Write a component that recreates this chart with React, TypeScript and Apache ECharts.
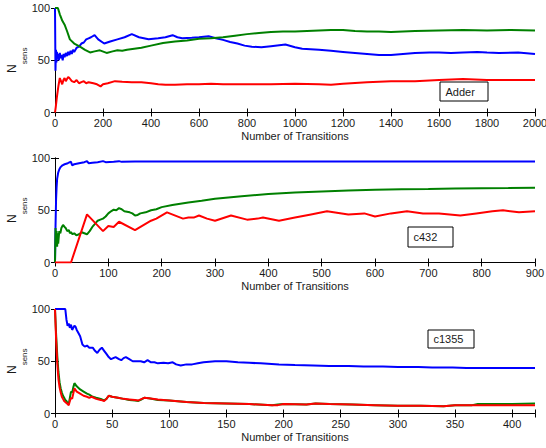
import React, { useEffect, useRef } from "react";
import * as echarts from "echarts";

// ---------- data ----------
const panelNames = ["Adder", "c432", "c1355"];
const xMax = [2000, 900, 420];
const xInterval = [200, 100, 50];
const yTicks = [0, 50, 100];

const adderBlue = [[0,100],[2,40],[4,60],[6,48],[8,58],[10,52],[13,56],[16,50],[20,57],[24,52],[28,55],[32,50],[36,56],[40,53],[45,57],[50,54],[55,58],[60,55],[65,59],[70,56],[75,60],[80,58],[90,62],[100,63],[110,66],[120,67],[130,70],[140,71],[150,72],[165,74],[180,70],[205,66],[230,68],[260,70],[290,72],[320,75],[350,72],[390,70],[430,71],[460,72],[490,74],[510,72],[530,71],[570,71.5],[600,72],[640,73],[670,71],[700,69.5],[730,67.5],[760,66],[790,64],[820,63],[860,62.5],[900,63.5],[960,65],[1000,62.5],[1030,61],[1100,60],[1150,59],[1200,58],[1250,57],[1300,56],[1350,55],[1400,55],[1450,56],[1500,57],[1560,57.5],[1600,57.5],[1650,57],[1700,57.5],[1760,58],[1800,57.5],[1850,57],[1930,57.5],[2000,56]];
const adderGreen = [[0,100],[12,100],[16,97],[20,94],[25,91],[30,88],[40,84],[50,78],[62,70],[80,66],[104,63],[125,60],[146,57.5],[165,58.5],[187,59.5],[215,57],[240,58.5],[260,59.5],[280,59],[300,60],[330,61],[360,62],[400,64],[450,66.5],[500,68],[550,69],[600,70.5],[650,71],[700,72],[750,73.5],[800,75],[850,76],[900,77],[950,77.5],[1000,77.5],[1050,78],[1100,78.5],[1150,79],[1200,79],[1250,78],[1300,77.5],[1350,77.5],[1400,77],[1450,77.5],[1500,78],[1600,78.5],[1700,79],[1800,78.5],[1900,79],[2000,78.5]];
const adderRed = [[0,0],[3,5],[8,15],[14,25],[20,33],[25,30],[30,27],[35,31],[40,33],[45,30],[50,32],[55,34],[60,33],[70,30],[80,29],[90,31],[100,28],[110,29],[120,30],[130,28],[140,29],[160,28],[175,27],[190,25],[200,27],[220,28],[250,30],[280,29.5],[320,29],[360,29],[400,28],[430,27],[460,26.5],[500,26.5],[550,27],[600,27],[650,27.5],[700,27],[800,27],[900,27],[1000,27.5],[1100,27],[1150,26.5],[1200,27.5],[1300,29],[1400,30],[1500,30],[1600,31],[1700,32],[1800,31],[1900,31],[2000,31]];

const c432Blue = [[0,0],[1,35],[2,60],[3,72],[4,80],[6,86],[8,89],[10,91],[14,93],[18,94],[24,95],[28,96],[30,96.5],[32,93],[36,94],[45,95],[55,96],[60,97],[63,95],[70,95.5],[80,96],[90,97],[95,96],[110,96.5],[120,97],[125,96.3],[150,96.7],[200,96.7],[300,96.6],[400,96.7],[500,96.6],[600,96.6],[700,96.6],[800,96.6],[900,96.6]];
const c432Green = [[0,0],[1,33],[2,20],[3,30],[4,15],[5,28],[6,18],[8,30],[10,28],[12,33],[15,36],[18,34],[20,33],[23,30],[26,31],[28,28],[30,29],[33,27],[36,28],[40,26],[45,27],[50,29],[55,28],[60,27],[65,30],[70,34],[75,37],[80,40],[85,41],[90,42],[95,44],[100,47],[105,49],[110,50.5],[115,50],[120,52],[125,51],[130,49],[140,48],[145,47],[150,45],[155,45.5],[160,47],[170,48],[180,50],[190,51],[200,53],[220,55],[250,57.5],[275,59],[300,61],[350,63.5],[400,65.5],[450,67],[500,68],[550,68.8],[600,69.5],[650,70],[700,70.3],[750,70.8],[800,71],[850,71.2],[900,71.5]];
const c432Red = [[0,0],[30,0],[60,46],[90,30],[100,35],[110,34],[120,39],[150,31],[180,40],[190,42],[210,48],[240,42],[250,43],[260,43],[270,45],[285,42],[300,40],[330,45],[360,41],[380,42],[390,43],[420,40],[450,43],[480,46],[510,49],[550,46],[580,47],[600,44],[630,47],[660,49],[690,47],[720,47],[760,45],[790,47],[820,49],[840,50],[870,48],[900,49]];

const c1355Blue = [[0,100],[9,100],[10,90],[11,84],[12,86],[13,82],[14,85],[15,80],[16,82],[17,84],[18,83],[19,80],[20,78],[22,74],[24,66],[26,64],[28,65],[30,63],[33,63],[35,60],[37,58],[39,61],[41,63],[43,60],[45,57],[47,54],[49,52],[51,53],[53,54],[56,52],[58,51],[60,53],[62,54],[65,52],[68,50],[72,50],[75,50],[78,49],[81,51],[84,49],[87,49],[90,48],[95,48.5],[99,48],[103,49],[106,47],[110,46],[115,47],[120,47],[125,48],[130,49],[140,50],[150,50],[160,49],[170,48.5],[180,48],[196,47],[210,46.5],[226,46],[240,45.5],[257,45.5],[270,45],[287,45],[300,44.5],[318,44.5],[330,44],[348,44],[360,43.5],[378,43.5],[400,43.5],[420,43.5]];
const c1355Green = [[0,100],[1,75],[2,55],[3,40],[4,30],[5,24],[6,20],[7,17],[8,15],[9,13],[10,12],[11,10],[12,9],[13,15],[14,21],[15,20],[16,25],[17,29],[19,26],[22,23],[25,21],[28,19],[30,18],[33,16],[36,15],[40,14],[43,12.5],[45,14],[47,17],[50,16],[55,15],[60,14],[65,13],[70,12.5],[73,12],[75,13],[78,15],[82,14.5],[90,13],[100,12.5],[115,11],[130,10],[150,9.5],[170,9],[190,8],[195,8.5],[200,9],[220,8.5],[228,9.5],[240,9],[260,8.5],[280,8],[300,7.5],[320,7.5],[340,7],[350,8],[365,8],[370,9],[400,9],[420,9.5]];
const c1355Red = [[0,100],[1,70],[2,48],[3,33],[4,25],[5,20],[6,16],[7,14],[8,12],[9,11],[10,10],[11,9],[12,8],[13,12],[14,15],[15,14],[16,19],[17,24],[19,21],[22,19],[25,17],[28,16],[30,15],[32,16],[36,14],[40,13],[43,12],[45,14],[47,17],[50,16],[55,15],[60,14],[65,13.5],[70,13],[73,12.5],[75,13.5],[78,15],[82,14.5],[90,13.5],[100,12.5],[115,11],[130,10],[150,9.5],[170,9],[190,8],[195,8],[200,9],[220,8.5],[228,9.5],[240,9],[260,8.5],[280,8],[300,7.5],[320,7.5],[340,7],[350,8],[370,8],[400,8],[420,8]];

const panelSeries = [
  [adderBlue, adderGreen, adderRed],
  [c432Blue, c432Green, c432Red],
  [c1355Blue, c1355Green, c1355Red],
];
const colors = ["#0000ff", "#008000", "#ff0000"];

// ---------- layout ----------
const gridTops = [8, 158, 309];
const gridHeight = 104.5;
const gridLeft = 55;
const gridRight = 11;
const boxes = [
  { x: 440, y: 82, w: 48, h: 19 },
  { x: 408, y: 227, w: 45, h: 20 },
  { x: 428, y: 330, w: 46, h: 18 },
];

const FONT = "Liberation Sans, Arial, sans-serif";
const TXT = "#1a1a1a";

export default function App() {
  const ref = useRef<HTMLDivElement>(null);
  useEffect(() => {
    if (!ref.current) return;
    const chart = echarts.init(ref.current, null, { renderer: "svg" });
    const grid: any[] = [];
    const xAxis: any[] = [];
    const yAxis: any[] = [];
    const series: any[] = [];
    const graphic: any[] = [];
    panelSeries.forEach((lines, i) => {
      grid.push({ left: gridLeft, right: gridRight, top: gridTops[i], height: gridHeight, containLabel: false, outerBoundsMode: "none" });
      const axLine = { show: true, lineStyle: { color: "#000", width: 1 } };
      const tick = { show: true, inside: true, length: 4, lineStyle: { color: "#000", width: 1 } };
      xAxis.push({
        type: "value", gridIndex: i, min: 0, max: xMax[i], interval: xInterval[i], position: "bottom",
        axisLine: axLine, axisTick: tick, splitLine: { show: false },
        axisLabel: {
          margin: 5, color: TXT, fontSize: 11, fontFamily: FONT,
          formatter: (v: number) => (v % xInterval[i] === 0 ? String(v) : ""),
        },
        name: "Number of Transitions", nameLocation: "middle", nameGap: 18, nameMoveOverlap: false,
        nameTextStyle: { color: TXT, fontSize: 11, fontFamily: FONT },
      });
      xAxis.push({
        type: "value", gridIndex: i, min: 0, max: xMax[i], interval: xInterval[i], position: "top",
        axisLine: axLine, axisTick: tick, splitLine: { show: false }, axisLabel: { show: false },
      });
      yAxis.push({
        type: "value", gridIndex: i, min: yTicks[0], max: yTicks[2], interval: 50, position: "left",
        axisLine: axLine, axisTick: tick, splitLine: { show: false },
        axisLabel: { margin: 5, color: TXT, fontSize: 11, fontFamily: FONT },
        name: "{n|N}{s|sens}", nameLocation: "middle", nameGap: 27, nameRotate: 90, nameMoveOverlap: false,
        nameTextStyle: {
          rich: {
            n: { fontSize: 12, fontFamily: FONT, color: TXT, lineHeight: 22, verticalAlign: "top" },
            s: { fontSize: 8, fontFamily: FONT, color: TXT, lineHeight: 22, verticalAlign: "bottom" },
          },
        },
      });
      yAxis.push({
        type: "value", gridIndex: i, min: 0, max: 100, interval: 50, position: "right",
        axisLine: axLine, axisTick: tick, splitLine: { show: false }, axisLabel: { show: false },
      });
      lines.forEach((d, k) => {
        series.push({
          type: "line", xAxisIndex: i * 2, yAxisIndex: i * 2, data: d, showSymbol: false,
          lineStyle: { color: colors[k], width: 2 }, itemStyle: { color: colors[k] }, z: 2 + k,
          clip: true,
        });
      });
      const b = boxes[i];
      graphic.push({
        type: "group", z: 100,
        children: [
          { type: "rect", shape: { x: b.x, y: b.y, width: b.w, height: b.h }, style: { fill: "#fff", stroke: "#000", lineWidth: 1 } },
          { type: "text", x: b.x + 5.5, y: b.y + b.h / 2, style: { text: panelNames[i], fill: TXT, font: `11px ${FONT}`, textVerticalAlign: "middle", verticalAlign: "middle" } },
        ],
      });
    });
    chart.setOption({ animation: false, backgroundColor: "#fff", grid, xAxis, yAxis, series, graphic });
    return () => chart.dispose();
  }, []);
  return <div ref={ref} style={{ width: 546, height: 448, position: "absolute", left: 0, top: 0 }} />;
}
